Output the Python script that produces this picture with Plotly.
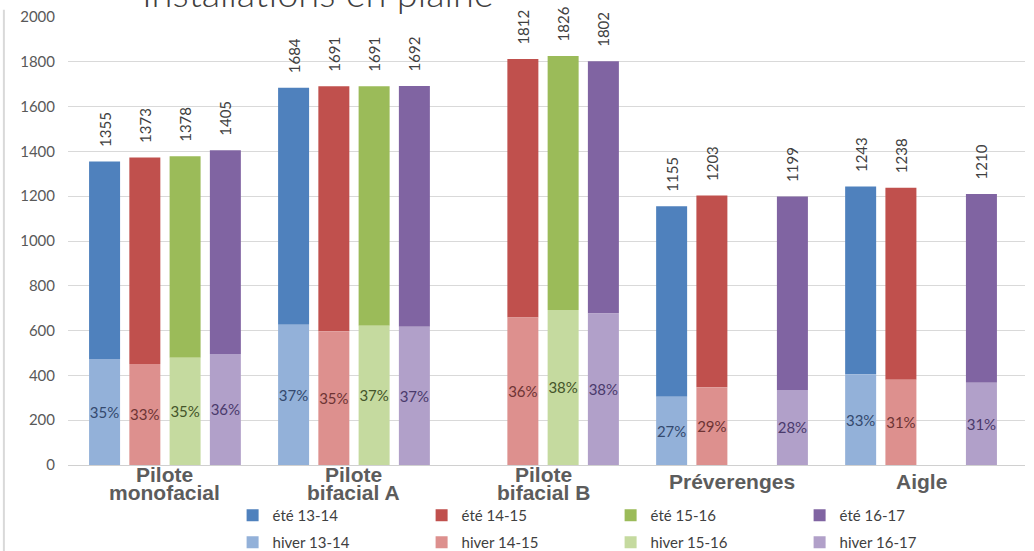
import plotly.graph_objects as go

# ---------------- data ----------------
categories = ["Pilote<br>monofacial", "Pilote<br>bifacial A", "Pilote<br>bifacial B", "Préverenges", "Aigle"]
seasons = ["13-14", "14-15", "15-16", "16-17"]

# annual totals (labels above the bars)
total_1314 = [1355, 1684, None, 1155, 1243]
total_1415 = [1373, 1691, 1812, 1203, 1238]
total_1516 = [1378, 1691, 1826, None, None]
total_1617 = [1405, 1692, 1802, 1199, 1210]

# winter part (lower, lighter segment)
hiver_1314 = [473, 626, None, 305, 405]
hiver_1415 = [451, 597, 659, 347, 381]
hiver_1516 = [479, 622, 692, None, None]
hiver_1617 = [496, 617, 676, 335, 367]

# winter share labels
pct_1314 = ["35%", "37%", None, "27%", "33%"]
pct_1415 = ["33%", "35%", "36%", "29%", "31%"]
pct_1516 = ["35%", "37%", "38%", None, None]
pct_1617 = ["36%", "37%", "38%", "28%", "31%"]

totals = [total_1314, total_1415, total_1516, total_1617]
hivers = [hiver_1314, hiver_1415, hiver_1516, hiver_1617]
pcts = [pct_1314, pct_1415, pct_1516, pct_1617]

ete_colors = ["#4f81bd", "#c0504d", "#9bbb59", "#8064a2"]
hiver_colors = ["#93b1d9", "#dd908e", "#c5da9f", "#b1a0c9"]
pct_text_colors = ["#34496e", "#6e3434", "#44552a", "#4a3a6c"]

FONT = "Lato, 'Open Sans', sans-serif"

fig = go.Figure()

# été traces (upper segment, base = hiver)
for i, s in enumerate(seasons):
    ete_vals = [None if (t is None or h is None) else t - h for t, h in zip(totals[i], hivers[i])]
    fig.add_trace(go.Bar(
        x=categories, y=ete_vals, base=hivers[i],
        name=f"été {s}", offsetgroup=str(i), legend="legend",
        marker=dict(color=ete_colors[i], line=dict(width=0)),
        text=[None if t is None else "\u00a0\u00a0\u00a0" + str(t) for t in totals[i]],
        textposition="outside", textangle=-90, constraintext="none",
        outsidetextfont=dict(family=FONT, size=15, color="#404040"),
        cliponaxis=False, hoverinfo="skip",
    ))

# hiver traces (lower segment)
for i, s in enumerate(seasons):
    fig.add_trace(go.Bar(
        x=categories, y=hivers[i],
        name=f"hiver {s}", offsetgroup=str(i), legend="legend2",
        marker=dict(color=hiver_colors[i], line=dict(width=0)),
        text=pcts[i], textposition="inside", insidetextanchor="middle",
        textangle=0, constraintext="none",
        insidetextfont=dict(family=FONT, size=15, color=pct_text_colors[i]),
        cliponaxis=False, hoverinfo="skip",
    ))

# category labels (tight two-line labels)
label_font = dict(family="'Liberation Sans', Arial, sans-serif", size=21, color="#5c5c5c")
for c in categories:
    lines = c.split("<br>")
    if len(lines) == 2:
        shifts = [-9, -27]
    else:
        shifts = [-16]
    for line, sh in zip(lines, shifts):
        fig.add_annotation(x=c, xref="x", y=0, yref="paper", text=f"<b>{line}</b>",
                           showarrow=False, xanchor="center", yanchor="middle",
                           yshift=sh, font=label_font)

# title (cut off at the top of the image)
fig.add_annotation(x=(140 - 68) / (1034 - 68 - 9), xref="paper", y=1, yref="paper",
                   text="Installations en plaine",
                   showarrow=False, xanchor="left", yanchor="bottom", yshift=0,
                   font=dict(family=FONT, size=38, color="#404040", weight=300))

legend_common = dict(orientation="h", x=0.172, xanchor="left", xref="paper",
                     yref="container", yanchor="top", entrywidth=144,
                     font=dict(family=FONT, size=15, color="#404040"),
                     bgcolor="rgba(0,0,0,0)", itemclick=False)

fig.update_layout(
    width=1034, height=551,
    margin=dict(l=68, r=9, t=17, b=86, autoexpand=False),
    paper_bgcolor="white", plot_bgcolor="white",
    barmode="group", bargap=0.148, bargroupgap=0.23,
    uniformtext=dict(minsize=15, mode="show"),
    font=dict(family=FONT, size=15, color="#595959"),
    xaxis=dict(type="category", range=[-0.513, 4.55], showticklabels=False,
               showgrid=False, zeroline=False, showline=False, ticks=""),
    yaxis=dict(range=[0, 2000], dtick=200, showgrid=True, gridcolor="#d9d9d9",
               gridwidth=1, zeroline=True, zerolinecolor="#d0d0d0", zerolinewidth=1,
               showline=False, ticks="", ticklabelstandoff=12,
               tickfont=dict(family=FONT, size=15, color="#595959")),
    legend=dict(legend_common, y=0.0944),
    legend2=dict(legend_common, y=0.0454),
    showlegend=True,
    shapes=[dict(type="line", xref="paper", yref="paper", x0=-0.067, x1=-0.067,
                 y0=1.016, y1=-0.2, line=dict(color="#d9d9d9", width=2))],
)

fig.write_html("out.html")
